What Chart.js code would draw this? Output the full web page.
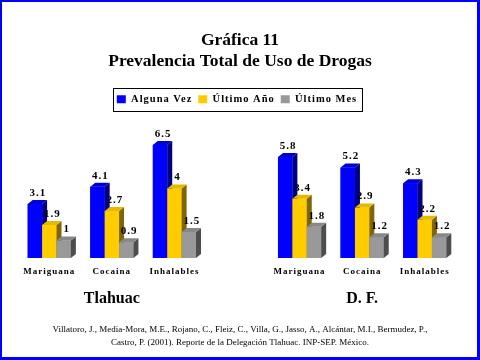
<!DOCTYPE html>
<html><head><meta charset="utf-8">
<script src="https://cdn.jsdelivr.net/npm/chart.js@4/dist/chart.umd.min.js"></script>
<style>
html,body{margin:0;padding:0;background:#fff;}
#frame{position:absolute;left:0;top:0;width:480px;height:360px;box-sizing:border-box;border-style:solid;border-color:#0000ff;border-width:2px 3px 3px 2px;}
#c{position:absolute;left:0;top:0;}
</style></head><body>
<div id="frame"></div>
<canvas id="c" width="480" height="360"></canvas>
<script>
// ---- data ----
const categories = ['Mariguana','Cocaina','Inhalables','','Mariguana','Cocaina','Inhalables'];
const groupLabels = ['','Tlahuac','','','','D. F.',''];
const seriesNames = ['Alguna Vez','Último Año','Último Mes'];
const algunaVez = [3.1, 4.1, 6.5, null, 5.8, 5.2, 4.3];
const ultimoAno = [1.9, 2.7, 4,   null, 3.4, 2.9, 2.2];
const ultimoMes = [1,   0.9, 1.5, null, 1.8, 1.2, 1.2];
const titleLines = ['Gráfica 11','Prevalencia Total de Uso de Drogas'];
const sourceLines = ['Villatoro, J., Media-Mora, M.E., Rojano, C., Fleiz, C., Villa, G., Jasso, A., Alcántar, M.I., Bermudez, P.,',
                     'Castro, P. (2001). Reporte de la Delegación Tlahuac. INP-SEP. México.'];

// ---- styles ----
const SERIF = "'Liberation Serif','Times New Roman',serif";
const FRONT = ['#0000ff','#ffcc00','#999999'];
const SIDE  = ['#000080','#806600','#4d4d4d'];
const TOP   = ['#0000d8','#e6b800','#888888'];
const DX = 5, DY = 4;

const deco = {
  id: 'deco',
  beforeLayout(chart){ chart.ctx.letterSpacing = '1px'; },
  afterLayout(chart){
    const s = chart.scales.x2;
    if (s && !s._noSpacing) {
      const orig = s.drawLabels;
      s.drawLabels = function(a){
        const c = this.ctx, prev = c.letterSpacing;
        c.letterSpacing = '0px';
        orig.call(this, a);
        c.letterSpacing = prev;
      };
      s._noSpacing = true;
    }
  },
  beforeDraw(chart){ chart.ctx.letterSpacing = '1px'; },
  afterDatasetsDraw(chart){
    const ctx = chart.ctx;
    ctx.save();
    chart.data.datasets.forEach((ds, di) => {
      const meta = chart.getDatasetMeta(di);
      meta.data.forEach((bar, i) => {
        if (ds.data[i] == null) return;
        const p = bar.getProps(['x','y','base','width'], true);
        const l = p.x - p.width/2, r = p.x + p.width/2, y = p.y, b = p.base;
        ctx.fillStyle = FRONT[di];
        ctx.fillRect(l, y, p.width, b - y);
        ctx.fillStyle = SIDE[di];
        ctx.beginPath(); ctx.moveTo(r, y); ctx.lineTo(r+DX, y-DY); ctx.lineTo(r+DX, b-DY); ctx.lineTo(r, b); ctx.closePath(); ctx.fill();
        ctx.fillStyle = TOP[di];
        ctx.beginPath(); ctx.moveTo(l, y); ctx.lineTo(l+DX, y-DY); ctx.lineTo(r+DX, y-DY); ctx.lineTo(r, y); ctx.closePath(); ctx.fill();
      });
    });
    ctx.fillStyle = '#000';
    ctx.font = 'bold 11px ' + SERIF;
    ctx.textAlign = 'center';
    ctx.textBaseline = 'middle';
    ctx.letterSpacing = '1px';
    chart.data.datasets.forEach((ds, di) => {
      const meta = chart.getDatasetMeta(di);
      meta.data.forEach((bar, i) => {
        const v = ds.data[i];
        if (v == null) return;
        ctx.fillText(String(v), bar.x + 3, bar.y - 11);
      });
    });
    ctx.restore();
  },
  afterDraw(chart){
    const ctx = chart.ctx;
    ctx.save();
    ctx.letterSpacing = '0px';
    ctx.fillStyle = '#000';
    ctx.textAlign = 'center';
    ctx.textBaseline = 'middle';
    ctx.font = 'bold 17.5px ' + SERIF;
    ctx.fillText(titleLines[0], 240, 40);
    ctx.fillText(titleLines[1], 240, 61);
    ctx.font = '9px ' + SERIF;
    ctx.fillText(sourceLines[0], 240, 330);
    ctx.fillText(sourceLines[1], 240, 343);
    // legend frame
    const hb = chart.legend.legendHitBoxes;
    if (hb && hb.length) {
      const x0 = hb[0].left - 4;
      const last = hb[hb.length-1];
      const x1 = last.left + last.width + 5;
      const y0 = hb[0].top - 6, y1 = hb[0].top + hb[0].height + 6;
      ctx.strokeStyle = '#000';
      ctx.lineWidth = 1;
      ctx.strokeRect(Math.round(x0)+0.5, Math.round(y0)+0.5, Math.round(x1-x0), Math.round(y1-y0));
    }
    ctx.restore();
  }
};

const seriesData = [algunaVez, ultimoAno, ultimoMes];
new Chart(document.getElementById('c'), {
  type: 'bar',
  data: {
    labels: categories,
    datasets: seriesNames.map((n, i) => ({
      label: n, data: seriesData[i], backgroundColor: FRONT[i], borderWidth: 0,
      categoryPercentage: 0.69, barPercentage: 1
    }))
  },
  options: {
    responsive: false, animation: false, devicePixelRatio: 1,
    layout: { padding: { top: 88, left: 18, right: 24, bottom: 50 } },
    plugins: {
      legend: { position: 'top', labels: { boxWidth: 9, boxHeight: 8, padding: 6, color: '#000',
        font: { family: SERIF, size: 10.5, weight: 'bold' },
        sort: (a, b) => a.datasetIndex - b.datasetIndex } },
      tooltip: { enabled: false },
      title: { display: false }
    },
    scales: {
      x: { grid: { display: false, drawTicks: false }, border: { display: false },
           afterFit: (s) => { s.height = 22; },
           ticks: { padding: 8, color: '#000', maxRotation: 0, autoSkip: false,
                    font: { family: SERIF, size: 9, weight: 'bold' } } },
      x2: { type: 'category', labels: groupLabels, position: 'bottom', offset: true,
            grid: { display: false, drawTicks: false }, border: { display: false },
            afterFit: (s) => { s.height = 30; },
            ticks: { padding: 9.4, color: '#000', maxRotation: 0, autoSkip: false,
                     font: { family: SERIF, size: 16, weight: 'bold' } } },
      y: { display: false, min: 0, max: 8.25 }
    }
  },
  plugins: [deco]
});
</script>
</body></html>
